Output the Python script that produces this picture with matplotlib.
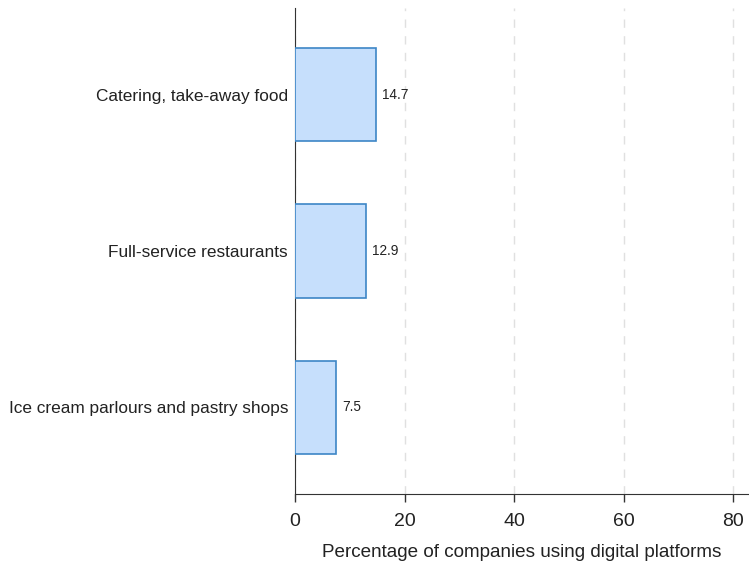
import matplotlib.pyplot as plt
import matplotlib as mpl

categorias = ['Catering, take-away food', 'Full-service restaurants',
              'Ice cream parlours and pastry shops']
valores = [14.7, 12.9, 7.5]
etiquetas = ['14.7', '12.9', '7.5']

mpl.rcParams['font.family'] = ['Liberation Sans', 'DejaVu Sans']

fig = plt.figure(figsize=(7.49, 5.65), dpi=100)
ax = fig.add_axes([295/749, 1 - 494/565, (748-295)/749, (494-8)/565])

yy = range(len(valores))
ax.barh(yy, valores, height=0.6, color='#c6dffc', edgecolor='#3d86c6', linewidth=1.2, zorder=3)
for y, v, t in zip(yy, valores, etiquetas):
    ax.text(v + 1.2, y, t, va='center', ha='left', fontsize=9.8, color='#222222')

ax.set_xlim(0, 82.7)
ax.set_ylim(2.553, -0.553)
ax.set_xticks([0, 20, 40, 60, 80])
ax.set_yticks(list(yy))
ax.set_yticklabels(categorias, fontsize=12.4, color='#222222')
ax.tick_params(axis='x', labelsize=14, length=6, width=1, color='#333333', pad=8,
               labelcolor='#222222')
ax.tick_params(axis='y', length=0, pad=5)
ax.xaxis.grid(True, linestyle=(0, (6, 6)), color='#e0e0e0', linewidth=1, zorder=0)
for s in ['top', 'right']:
    ax.spines[s].set_visible(False)
ax.spines['left'].set_color('#333333')
ax.spines['bottom'].set_color('#333333')
ax.set_xlabel('Percentage of companies using digital platforms', fontsize=13.6,
              labelpad=10, color='#222222')

fig.savefig('out.png', dpi=100, facecolor='white')
